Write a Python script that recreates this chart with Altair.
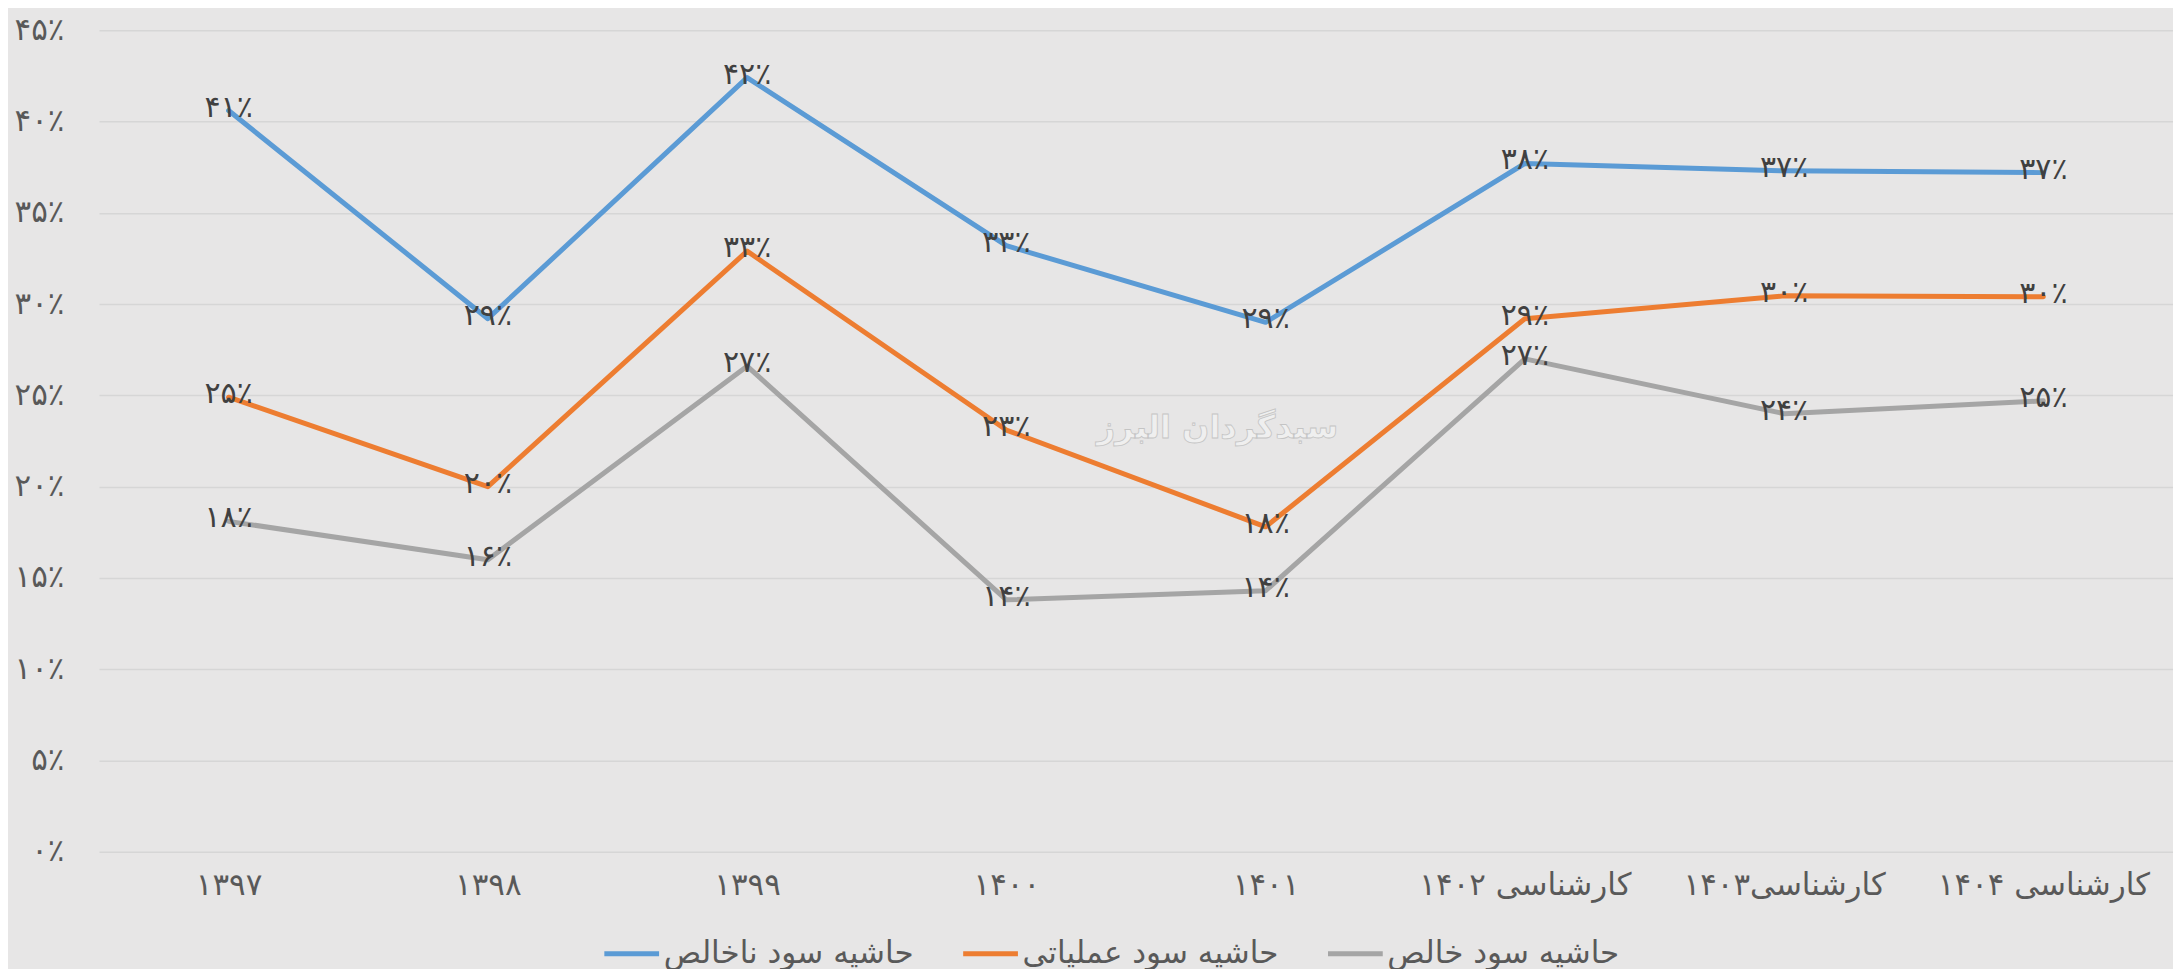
import altair as alt
import pandas as pd

categories = ["۱۳۹۷", "۱۳۹۸", "۱۳۹۹", "۱۴۰۰", "۱۴۰۱",
              "کارشناسی ۱۴۰۲", "کارشناسی۱۴۰۳", "کارشناسی ۱۴۰۴"]
series_names = ["حاشیه سود ناخالص", "حاشیه سود عملیاتی", "حاشیه سود خالص"]
series_colors = ["#5b9bd5", "#ed7d31", "#a5a5a5"]
gross_margin = [40.6, 29.2, 42.4, 33.2, 29.0, 37.7, 37.3, 37.2]
operating_margin = [24.9, 20.0, 32.9, 23.1, 17.8, 29.2, 30.45, 30.4]
net_margin = [18.1, 16.0, 26.6, 13.8, 14.3, 27.0, 24.0, 24.7]
y_ticks = [0, 5, 10, 15, 20, 25, 30, 35, 40, 45]
watermark = "سبدگردان البرز"

FA = str.maketrans("0123456789", "۰۱۲۳۴۵۶۷۸۹")


def fa_pct(v):
    return str(int(v + 0.5)).translate(FA) + "٪"


rows = []
for name, vals in zip(series_names, [gross_margin, operating_margin, net_margin]):
    for i, (c, v) in enumerate(zip(categories, vals)):
        rows.append({"cat": c, "series": name, "value": v, "label": fa_pct(v), "order": i})
df = pd.DataFrame(rows)

y_label_expr = "''"
for t in reversed(y_ticks):
    y_label_expr = f"datum.value == {t} ? '{fa_pct(t)}' : ({y_label_expr})"

FONT = "DejaVu Sans"
W, H = 2075, 822
FS = 31

x_enc = alt.X("cat:N", sort=categories, scale=alt.Scale(type="point", padding=0.5),
              axis=alt.Axis(title=None, labelAngle=0, labelFontSize=FS, labelColor="#595959",
                            labelPadding=19, ticks=False, domain=False, grid=False,
                            labelLimit=0, labelFont=FONT))
y_enc = alt.Y("value:Q", scale=alt.Scale(domain=[0, 45], nice=False),
              axis=alt.Axis(title=None, values=y_ticks, labelExpr=y_label_expr,
                            labelFontSize=FS, labelColor="#595959", labelPadding=35,
                            ticks=False, domain=False, gridColor="#d6d6d6", gridWidth=1.5,
                            labelFont=FONT))
color_enc = alt.Color("series:N", sort=series_names,
                      scale=alt.Scale(domain=series_names, range=series_colors),
                      legend=alt.Legend(title=None, orient="none", legendX=503, legendY=894,
                                        direction="horizontal",
                                        symbolType="stroke", symbolStrokeWidth=5,
                                        symbolSize=3000, labelFontSize=FS,
                                        labelColor="#595959", columnPadding=38,
                                        labelOffset=2, labelLimit=0,
                                        labelFont=FONT))

base = alt.Chart(df)
lines = base.mark_line(strokeWidth=5, strokeCap="round", strokeJoin="round").encode(
    x=x_enc, y=y_enc, color=color_enc, detail="series:N", order="order:Q")
labels = base.mark_text(fontSize=30, color="#404040", baseline="middle", align="center",
                        dy=-3, font=FONT).encode(
    x=alt.X("cat:N", sort=categories), y="value:Q", text="label:N")
wm = alt.Chart(pd.DataFrame({"t": [watermark]})).mark_text(
    fontSize=32, fontWeight="bold", fill="#efefef", stroke="#c4c4c4", strokeWidth=0.8,
    font=FONT, align="center", baseline="middle").encode(
    x=alt.value(1119), y=alt.value(398), text="t:N")

chart = alt.layer(lines, wm, labels).properties(
    width=W, height=H, background="#e7e6e6",
    padding={"left": 6, "top": 6, "right": 0, "bottom": 0}
).configure_view(strokeWidth=0, fill="#e7e6e6")

chart.save("out.html", embed_options={"renderer": "svg", "actions": False})
